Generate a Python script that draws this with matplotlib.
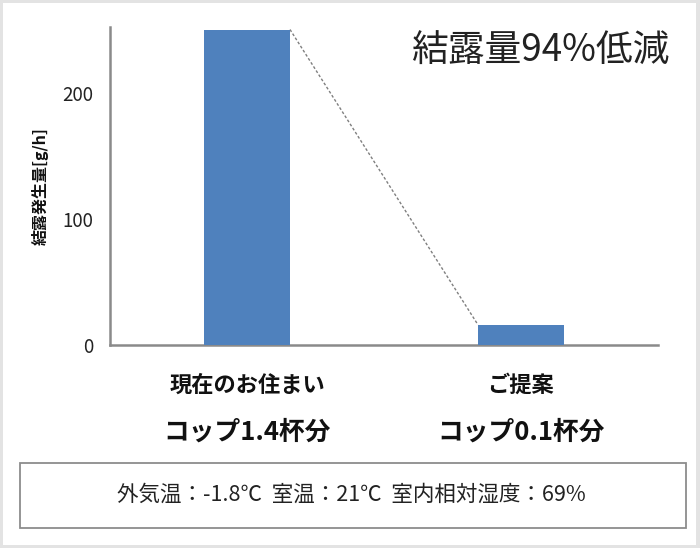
import matplotlib
matplotlib.use("Agg")
import matplotlib.pyplot as plt
from matplotlib.patches import Rectangle
from matplotlib.transforms import blended_transform_factory

plt.rcParams['font.family'] = ['Noto Sans CJK JP', 'DejaVu Sans']

categories = ["現在のお住まい", "ご提案"]
cup_labels = ["コップ1.4杯分", "コップ0.1杯分"]
values = [250, 16]
yticks = [0, 100, 200]
title_text = "結露量94%低減"
ylabel_text = "結露発生量[g/h]"
note_text = "外気温：-1.8℃  室温：21℃  室内相対湿度：69%"

W, H = 700, 548
fig = plt.figure(figsize=(W/100, H/100), dpi=100)
fig.patch.set_facecolor('#e3e3e3')
fig.patches.append(Rectangle((3/W, 1-545/H), (696-3)/W, (545-3)/H,
                             transform=fig.transFigure, facecolor='white',
                             edgecolor='none', zorder=-10))

ax = fig.add_axes([110/W, 1-345/H, (658-110)/W, (345-27)/H])
ax.set_facecolor('none')
bw = 0.314
x = list(range(len(categories)))
ax.bar(x, values, width=bw, color='#4f81bd', zorder=3)
ax.plot([x[0]+bw/2, x[1]-bw/2], [values[0], values[1]], color='#7f7f7f',
        linestyle=(0, (2, 1.5)), linewidth=1, zorder=2)
ax.set_xlim(-0.5, 1.5)
ax.set_ylim(0, 252)
ax.set_yticks(yticks)
ax.set_xticks([])
ax.tick_params(axis='y', length=0, pad=12, labelsize=13.5, labelcolor='#222222')
for s in ['top', 'right']:
    ax.spines[s].set_visible(False)
for s in ['left', 'bottom']:
    ax.spines[s].set_color('#8a8a8a')
    ax.spines[s].set_linewidth(1.8)

tr = blended_transform_factory(ax.transData, fig.transFigure)
for i, (c, cup) in enumerate(zip(categories, cup_labels)):
    ax.text(i, 1-385/H, c, transform=tr, ha='center', va='center',
            fontsize=16, fontweight='bold', color='#111111')
    ax.text(i, 1-432/H, cup, transform=tr, ha='center', va='center',
            fontsize=18.5, fontweight='bold', color='#111111')

fig.text(540/W, 1-51/H, title_text, ha='center', va='center', fontsize=26.5,
         color='#222222')
fig.text(40/W, 1-186/H, ylabel_text, ha='center', va='center', rotation=90,
         fontsize=11.5, fontweight='bold', color='#111111')

fig.patches.append(Rectangle((20/W, 1-528/H), (686-20)/W, (528-463)/H,
                             transform=fig.transFigure, facecolor='white',
                             edgecolor='#8c8c8c', linewidth=1.3))
fig.text(351/W, 1-495/H, note_text, ha='center', va='center', fontsize=15.5,
         color='#222222')

fig.savefig('out.png', dpi=100, facecolor=fig.get_facecolor())
